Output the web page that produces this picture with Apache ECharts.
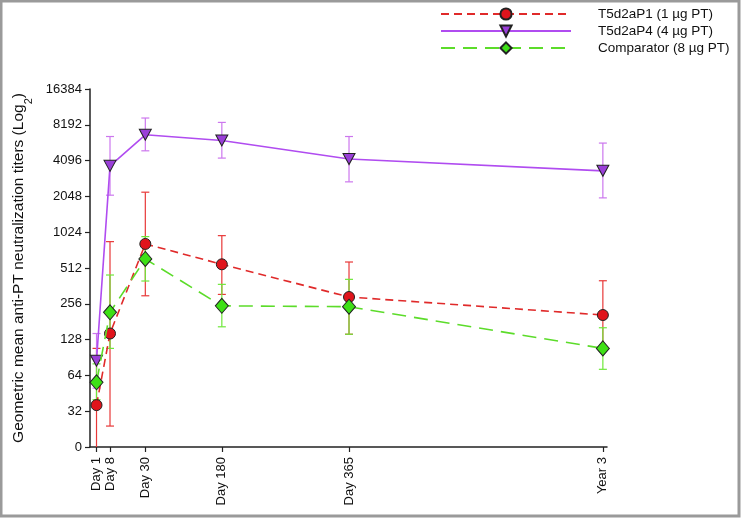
<!DOCTYPE html>
<html>
<head>
<meta charset="utf-8">
<script src="https://cdn.jsdelivr.net/npm/echarts@6/dist/echarts.min.js"></script>
<style>
html,body{margin:0;padding:0;background:#fff;}
#chart{width:741px;height:518px;}
</style>
</head>
<body>
<div id="chart"></div>
<script>
// ---- Data ----
const timepoints = ['Day 1', 'Day 8', 'Day 30', 'Day 180', 'Day 365', 'Year 3'];
const timeAxisPos = [1.26, 3.87, 10.7, 25.5, 50.1, 99.2];   // position of each visit on the time axis
const yTicks = [16, 32, 64, 128, 256, 512, 1024, 2048, 4096, 8192, 16384];

const p1Name = 'T5d2aP1 (1 µg PT)';
const p1Mean  = [36, 144, 816, 550, 292, 206];
const p1Upper = [108, 853, 2222, 958, 575, 400];
const p1Lower = [8, 24, 299, 307, 142, 108];

const p4Name = 'T5d2aP4 (4 µg PT)';
const p4Mean  = [85, 3700, 6750, 6050, 4220, 3360];
const p4Upper = [144, 6530, 9340, 8580, 6530, 5750];
const p4Lower = [50, 2097, 4950, 4300, 2714, 1990];

const cpName = 'Comparator (8 µg PT)';
const cpMean  = [56, 217, 610, 246, 242, 108];
const cpUpper = [80, 447, 940, 373, 411, 161];
const cpLower = [40, 108, 398, 164, 142, 72];

// ---- helpers ----
function pts(mean){ return mean.map((v,i)=>[timeAxisPos[i], v]); }
function bars(lo, hi){ return lo.map((v,i)=>[timeAxisPos[i], v, hi[i]]); }
function errSeries(lo, hi, color){
  return {
    type:'custom', z:2, clip:true, silent:true,
    data: bars(lo, hi),
    renderItem: function(params, api){
      const x = api.value(0);
      const a = api.coord([x, api.value(1)]);
      const b = api.coord([x, api.value(2)]);
      const cap = 4;
      const st = {stroke:color, lineWidth:1.2, fill:null};
      return {type:'group', children:[
        {type:'line', shape:{x1:a[0], y1:a[1], x2:b[0], y2:b[1]}, style:st},
        {type:'line', shape:{x1:a[0]-cap, y1:a[1], x2:a[0]+cap, y2:a[1]}, style:st},
        {type:'line', shape:{x1:b[0]-cap, y1:b[1], x2:b[0]+cap, y2:b[1]}, style:st}
      ]};
    }
  };
}

const chart = echarts.init(document.getElementById('chart'), null, {renderer:'canvas'});
const FONT = '"Liberation Sans", Arial, sans-serif';

chart.setOption({
  animation:false,
  backgroundColor:'#fff',
  textStyle:{fontFamily:FONT},
  grid:{left:90, right:134, top:89, bottom:71, containLabel:false},
  legend:{
    orient:'vertical', left:435, top:2,
    itemWidth:130, itemHeight:14, itemGap:3,
    textStyle:{fontFamily:FONT, fontSize:13.5, color:'#111', padding:[0,0,0,22]},
    data:[p1Name, p4Name, cpName]
  },
  xAxis:{
    type:'value', min:0, max:100,
    splitLine:{show:false},
    axisLine:{lineStyle:{color:'#222', width:1.5}},
    axisTick:{show:true, length:5, lineStyle:{color:'#222', width:1.2}, customValues: timeAxisPos},
    axisLabel:{
      rotate:90, fontSize:13, color:'#111', margin:10, fontFamily:FONT,
      customValues: timeAxisPos,
      formatter:function(v){ const i = timeAxisPos.indexOf(v); return i>=0 ? timepoints[i] : ''; }
    }
  },
  yAxis:{
    type:'log', logBase:2, min:16, max:16384, interval:1,
    splitLine:{show:false},
    axisLine:{show:true, lineStyle:{color:'#222', width:1.5}},
    axisTick:{show:true, length:5, lineStyle:{color:'#222', width:1.2}},
    axisLabel:{fontSize:13, color:'#111', margin:8, fontFamily:FONT,
      formatter:function(v){ const r = Math.round(v); return r <= yTicks[0] ? '0' : String(r); }},
    name:'Geometric mean anti-PT neutralization titers (Log{sub|2})',
    nameLocation:'middle', nameGap:63, nameRotate:90,
    nameTextStyle:{fontSize:15.5, color:'#111', fontFamily:FONT,
      rich:{sub:{fontSize:11, verticalAlign:'bottom', padding:[0,0,-8,0], fontFamily:FONT, color:'#111'}}}
  },
  graphic:[{type:'rect', shape:{x:1, y:1, width:738, height:515}, style:{fill:null, stroke:'#9a9a9a', lineWidth:3}, silent:true, z:100}],
  series:[
    errSeries(p1Lower, p1Upper, '#e83838'),
    errSeries(p4Lower, p4Upper, '#cc77ee'),
    errSeries(cpLower, cpUpper, '#6ee83a'),
    {
      name:p1Name, type:'line', z:3, data:pts(p1Mean),
      symbol:'circle', symbolSize:11,
      lineStyle:{color:'#e02a2a', width:1.6, type:[8,5]},
      itemStyle:{color:'#e0141c', borderColor:'#222', borderWidth:1}
    },
    {
      name:p4Name, type:'line', z:3, data:pts(p4Mean),
      symbol:'triangle', symbolRotate:180, symbolSize:[12,11],
      lineStyle:{color:'#b04cf0', width:1.6},
      itemStyle:{color:'#9a3fd8', borderColor:'#222', borderWidth:1}
    },
    {
      name:cpName, type:'line', z:4, data:pts(cpMean),
      symbol:'diamond', symbolSize:[13,15],
      lineStyle:{color:'#5cdc2a', width:1.6, type:[14,8]},
      itemStyle:{color:'#3ee016', borderColor:'#222', borderWidth:1}
    }
  ]
});
</script>
</body>
</html>
